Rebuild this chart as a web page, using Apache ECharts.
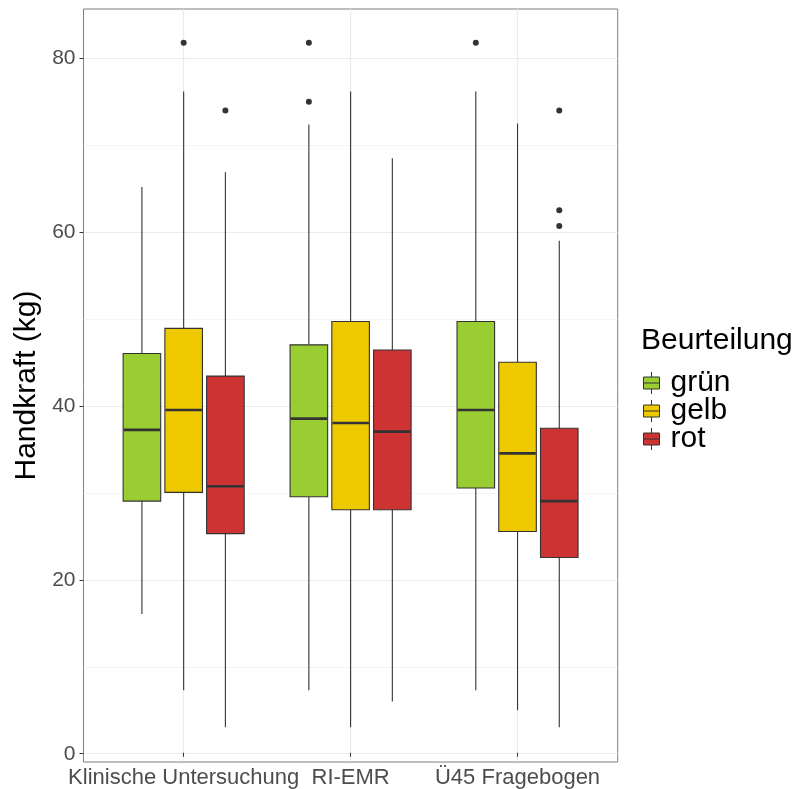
<!DOCTYPE html>
<html><head><meta charset="utf-8">
<script src="https://cdn.jsdelivr.net/npm/echarts@6/dist/echarts.min.js"></script>
<style>html,body{margin:0;padding:0;background:#fff}#c{width:795px;height:789px}</style>
</head><body><div id="c"></div>
<script>
const categories = ['Klinische Untersuchung', 'RI-EMR', 'Ü45 Fragebogen'];
const groups = ['grün', 'gelb', 'rot'];
const colors = ['#9ACD32', '#EEC900', '#CD3333'];
// each item: [lower whisker, Q1, median, Q3, upper whisker]
const gruen = [[16.0, 29.0, 37.2, 46.0, 65.2], [7.2, 29.5, 38.5, 47.0, 72.4], [7.2, 30.5, 39.5, 49.7, 76.2]];
const gelb  = [[7.2, 30.0, 39.5, 48.9, 76.2], [2.95, 28.0, 38.0, 49.7, 76.2], [4.9, 25.5, 34.5, 45.0, 72.5]];
const rot   = [[2.95, 25.25, 30.7, 43.4, 66.9], [5.9, 28.0, 37.0, 46.4, 68.5], [2.95, 22.5, 29.0, 37.4, 59.0]];
// outliers: [category index, value]
const outGruen = [[1, 81.8], [1, 75.0], [2, 81.8]];
const outGelb  = [[0, 81.8]];
const outRot   = [[0, 74.0], [2, 74.0], [2, 62.5], [2, 60.7]];
const yTicks = [0, 20, 40, 60, 80];
const yMinor = [10, 30, 50, 70];
const yMin = -0.95, yMax = 85.7;

const boxData = [gruen, gelb, rot];
const outData = [outGruen, outGelb, outRot];

const FONT = 'Liberation Sans, Arial, sans-serif';
const plotLeft = 83.5, plotWidth = 534.2, plotTop = 9, plotHeight = 753;
const unit = plotWidth / 3.2;               // one category step (ggplot expand 0.6)
const innerLeft = plotLeft + 0.6 * unit - unit / 2;
const innerWidth = 3 * unit;
const STROKE = '#333';

const grids = [
  {left: plotLeft, width: plotWidth, top: plotTop, height: plotHeight, show: true,
   borderColor: '#7f7f7f', borderWidth: 1, backgroundColor: '#fff'},
  {left: innerLeft, width: innerWidth, top: plotTop, height: plotHeight}
];
const xAxes = [
  {type: 'value', gridIndex: 0, min: 0, max: 1, show: false},
  {type: 'category', gridIndex: 1, data: categories, boundaryGap: true,
   axisLine: {show: false},
   axisTick: {show: true, alignWithLabel: true, length: 4, lineStyle: {color: STROKE}},
   axisLabel: {interval: 0, color: '#4d4d4d', fontSize: 22, fontFamily: FONT, margin: 6},
   splitLine: {show: true, alignWithLabel: true, lineStyle: {color: '#ebebeb', width: 1.2}}}
];
const yAxes = [
  {type: 'value', gridIndex: 0, min: yMin, max: yMax,
   axisLine: {show: false},
   axisTick: {show: true, length: 4, customValues: yTicks, lineStyle: {color: STROKE}},
   axisLabel: {customValues: yTicks, color: '#4d4d4d', fontSize: 21, fontFamily: FONT, margin: 8},
   splitLine: {show: true, lineStyle: {color: '#ebebeb', width: 1.2}},
   name: 'Handkraft (kg)', nameLocation: 'middle', nameRotate: 90, nameGap: 34,
   nameTextStyle: {fontSize: 30, color: '#000', fontFamily: FONT}},
  {type: 'value', gridIndex: 0, min: yMin, max: yMax,
   axisLine: {show: false}, axisLabel: {show: false},
   axisTick: {show: false, customValues: yMinor},
   splitLine: {show: true, lineStyle: {color: '#f2f2f2', width: 0.8}}},
  {type: 'value', gridIndex: 1, min: yMin, max: yMax, show: false, splitLine: {show: false}}
];

function dodgeX(api, k, i) {
  const band = api.size([1, 0])[0];
  return {cx: api.coord([i, 0])[0] + (k - 1) * 0.25 * band, w: 0.225 * band};
}

const series = [];
groups.forEach((g, k) => {
  series.push({type: 'custom', name: g, xAxisIndex: 1, yAxisIndex: 2,
    data: boxData[k].map((d, i) => [i].concat(d)),
    encode: {x: 0, y: [1, 2, 3, 4, 5]},
    itemStyle: {color: colors[k], borderColor: STROKE},
    z: 3, silent: true,
    renderItem: (params, api) => {
      const i = api.value(0);
      const {cx, w} = dodgeX(api, k, i);
      const y = j => api.coord([i, api.value(j)])[1];
      const lo = y(1), q1 = y(2), med = y(3), q3 = y(4), hi = y(5);
      const ls = {stroke: STROKE, lineWidth: 1.1};
      return {type: 'group', children: [
        {type: 'line', shape: {x1: cx, y1: hi, x2: cx, y2: q3}, style: ls},
        {type: 'line', shape: {x1: cx, y1: q1, x2: cx, y2: lo}, style: ls},
        {type: 'rect', shape: {x: cx - w / 2, y: q3, width: w, height: q1 - q3},
         style: {fill: colors[k], stroke: STROKE, lineWidth: 1.1}},
        {type: 'line', shape: {x1: cx - w / 2 + 0.5, y1: med, x2: cx + w / 2 - 0.5, y2: med},
         style: {stroke: STROKE, lineWidth: 2.6}}
      ]};
    }});
  series.push({type: 'custom', name: g + ' Ausreißer', xAxisIndex: 1, yAxisIndex: 2,
    data: outData[k], encode: {x: 0, y: 1}, z: 5, silent: true,
    renderItem: (params, api) => {
      const i = api.value(0);
      const {cx} = dodgeX(api, k, i);
      const cy = api.coord([i, api.value(1)])[1];
      return {type: 'circle', shape: {cx: cx, cy: cy, r: 3}, style: {fill: STROKE}};
    }});
});

const chart = echarts.init(document.getElementById('c'), null, {renderer: 'canvas'});
chart.setOption({
  animation: false,
  backgroundColor: '#fff',
  title: {text: 'Beurteilung', left: 636, top: 321,
    textStyle: {fontSize: 30, fontWeight: 'normal', color: '#000', fontFamily: FONT}},
  legend: {data: groups.map((g, k) => ({name: g,
      itemStyle: {color: colors[k], borderColor: STROKE, borderWidth: 1}})),
    orient: 'vertical', left: 638, top: 363, itemGap: -2,
    itemWidth: 16, itemHeight: 22,
    icon: 'path://M8,0L8,5M0,5L16,5L16,17L0,17ZM0,11L16,11M8,17L8,22',
    textStyle: {fontSize: 30, lineHeight: 28, color: '#000', fontFamily: FONT, padding: [0, 0, 0, 6]}},
  grid: grids, xAxis: xAxes, yAxis: yAxes, series: series
});
</script></body></html>
